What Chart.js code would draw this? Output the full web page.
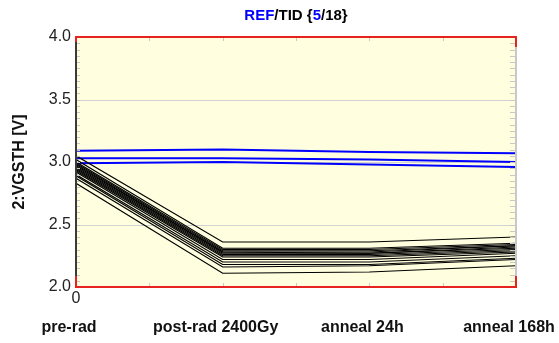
<!DOCTYPE html>
<html>
<head>
<meta charset="utf-8">
<script src="https://cdn.jsdelivr.net/npm/chart.js@4/dist/chart.umd.min.js"></script>
<style>
  body { margin: 0; background: #fff; }
  canvas { display: block; }
</style>
</head>
<body>
<canvas id="chart" width="559" height="343"></canvas>
<script>
// chart data
var stages = ["pre-rad", "post-rad 2400Gy", "anneal 24h", "anneal 168h"];
var stageX = [0, 2, 4, 6];
var yTicks = [2.0, 2.5, 3.0, 3.5, 4.0];

// reference parts (blue)
var ref1 = [3.09, 3.10, 3.08, 3.07];
var ref2 = [3.03, 3.03, 3.02, 3.00];
var ref3 = [2.99, 3.00, 2.98, 2.96];

// irradiated parts (black)
var tid1 = [3.05, 2.36, 2.36, 2.40];
var tid2 = [3.02, 2.31, 2.31, 2.35];
var tid3 = [3.00, 2.30, 2.30, 2.34];
var tid4 = [2.99, 2.29, 2.29, 2.33];
var tid5 = [2.98, 2.28, 2.28, 2.33];
var tid6 = [2.97, 2.28, 2.27, 2.32];
var tid7 = [2.96, 2.27, 2.27, 2.31];
var tid8 = [2.95, 2.26, 2.26, 2.30];
var tid9 = [2.94, 2.25, 2.25, 2.29];
var tid10 = [2.93, 2.24, 2.24, 2.28];
var tid11 = [2.92, 2.22, 2.22, 2.27];
var tid12 = [2.90, 2.20, 2.20, 2.25];
var tid13 = [2.89, 2.18, 2.18, 2.23];
var tid14 = [2.87, 2.16, 2.17, 2.22];
var tid15 = [2.83, 2.11, 2.12, 2.17];

var refSeries = [ref1, ref2, ref3];
var tidSeries = [tid1, tid2, tid3, tid4, tid5, tid6, tid7, tid8, tid9, tid10, tid11, tid12, tid13, tid14, tid15];

var FONT = "Arial, 'Liberation Sans', sans-serif";

function toPoints(vals) {
  return vals.map(function (v, i) { return { x: stageX[i], y: v }; });
}

var datasets = [];
tidSeries.forEach(function (s) {
  datasets.push({ data: toPoints(s), borderColor: "#000000", borderWidth: 1.2, pointRadius: 0 });
});
refSeries.forEach(function (s) {
  datasets.push({ data: toPoints(s), borderColor: "#0000ff", borderWidth: 2, pointRadius: 0 });
});

// background, frame, minor ticks, title and stage labels
var framePlugin = {
  id: "frame",
  beforeDatasetsDraw: function (chart) {
    var a = chart.chartArea, ctx = chart.ctx;
    ctx.save();
    ctx.fillStyle = "#ffffe0";
    ctx.fillRect(a.left, a.top, a.right - a.left, a.bottom - a.top);
    // y grid lines
    ctx.strokeStyle = "#d2d2d2";
    ctx.lineWidth = 1;
    var ys = chart.scales.y;
    yTicks.forEach(function (t) {
      var py = Math.round(ys.getPixelForValue(t)) + 0.5;
      ctx.beginPath(); ctx.moveTo(a.left, py); ctx.lineTo(a.right, py); ctx.stroke();
    });
    ctx.restore();
  },
  afterDraw: function (chart) {
    var a = chart.chartArea, ctx = chart.ctx;
    var xs = chart.scales.x, ys = chart.scales.y;
    ctx.save();
    // minor ticks
    ctx.strokeStyle = "#c8c8c8";
    ctx.lineWidth = 1;
    for (var v = 2.05; v < 3.999; v += 0.05) {
      var py = Math.round(ys.getPixelForValue(v)) + 0.5;
      ctx.beginPath(); ctx.moveTo(a.left, py); ctx.lineTo(a.left + 4, py); ctx.stroke();
      ctx.beginPath(); ctx.moveTo(a.right - 6, py); ctx.lineTo(a.right, py); ctx.stroke();
    }
    for (var k = 1; k < 6; k++) {
      var px = Math.round(xs.getPixelForValue(k)) + 0.5;
      ctx.beginPath(); ctx.moveTo(px, a.top); ctx.lineTo(px, a.top + 4); ctx.stroke();
      ctx.beginPath(); ctx.moveTo(px, a.bottom); ctx.lineTo(px, a.bottom - 4); ctx.stroke();
    }
    // frame
    ctx.lineWidth = 2;
    ctx.strokeStyle = "#c8c8c8";
    ctx.beginPath(); ctx.moveTo(a.right, a.top); ctx.lineTo(a.right, a.bottom); ctx.stroke();
    ctx.strokeStyle = "#3a3a3a";
    ctx.beginPath(); ctx.moveTo(a.left, a.top); ctx.lineTo(a.left, a.bottom); ctx.stroke();
    ctx.strokeStyle = "#e8231f";
    ctx.beginPath(); ctx.moveTo(a.left - 1, a.top); ctx.lineTo(a.right + 1, a.top); ctx.stroke();
    ctx.beginPath(); ctx.moveTo(a.left - 1, a.bottom); ctx.lineTo(a.right + 1, a.bottom); ctx.stroke();
    ctx.beginPath(); ctx.moveTo(a.left, a.top); ctx.lineTo(a.left, a.top + 5); ctx.stroke();
    ctx.beginPath(); ctx.moveTo(a.right, a.top); ctx.lineTo(a.right, a.top + 10); ctx.stroke();
    ctx.beginPath(); ctx.moveTo(a.left, a.bottom); ctx.lineTo(a.left, a.bottom - 11); ctx.stroke();
    ctx.beginPath(); ctx.moveTo(a.right, a.bottom); ctx.lineTo(a.right, a.bottom - 11); ctx.stroke();

    // title with coloured parts
    var parts = [["REF", "#0000ff"], ["/TID {", "#000000"], ["5", "#0000ff"], ["/18}", "#000000"]];
    ctx.font = "bold 15px " + FONT;
    ctx.textBaseline = "middle";
    ctx.textAlign = "left";
    var total = 0;
    parts.forEach(function (p) { total += ctx.measureText(p[0]).width; });
    var tx = (a.left + a.right) / 2 - total / 2;
    parts.forEach(function (p) {
      ctx.fillStyle = p[1];
      ctx.fillText(p[0], tx, 16);
      tx += ctx.measureText(p[0]).width;
    });

    // stage labels under the axis
    ctx.font = "bold 16px " + FONT;
    ctx.fillStyle = "#111111";
    ctx.textAlign = "center";
    var W = chart.width;
    stages.forEach(function (s, i) {
      var w = ctx.measureText(s).width;
      var cx = xs.getPixelForValue(stageX[i]) - 7;
      cx = Math.min(cx, W - w / 2 - 1);
      ctx.fillText(s, cx, a.bottom + 41);
    });
    ctx.restore();
  }
};

new Chart(document.getElementById("chart"), {
  type: "line",
  data: { datasets: datasets },
  options: {
    responsive: false,
    animation: false,
    layout: { padding: { left: 0, right: 43, top: 37, bottom: 0 } },
    plugins: { legend: { display: false }, tooltip: { enabled: false }, title: { display: false } },
    elements: { line: { tension: 0 } },
    scales: {
      x: {
        type: "linear",
        min: 0,
        max: 6,
        grid: { display: false, drawTicks: false },
        border: { display: false },
        ticks: {
          stepSize: 1,
          autoSkip: false,
          maxRotation: 0,
          padding: 2,
          color: "#222222",
          font: { family: FONT, size: 16 },
          callback: function (v) { return v === 0 ? "0" : ""; }
        },
        afterFit: function (s) { s.height = 56; }
      },
      y: {
        min: 2,
        max: 4,
        grid: { display: false, drawTicks: false },
        border: { display: false },
        ticks: {
          stepSize: 0.5,
          padding: 5,
          color: "#222222",
          font: { family: FONT, size: 16 },
          callback: function (v) { return v.toFixed(1); }
        },
        title: {
          display: true,
          text: "2:VGSTH [V]",
          color: "#111111",
          font: { family: FONT, size: 16, weight: "bold" },
          padding: { top: 10, bottom: 2 }
        },
        afterFit: function (s) { s.width = 76; }
      }
    }
  },
  plugins: [framePlugin]
});
</script>
</body>
</html>
